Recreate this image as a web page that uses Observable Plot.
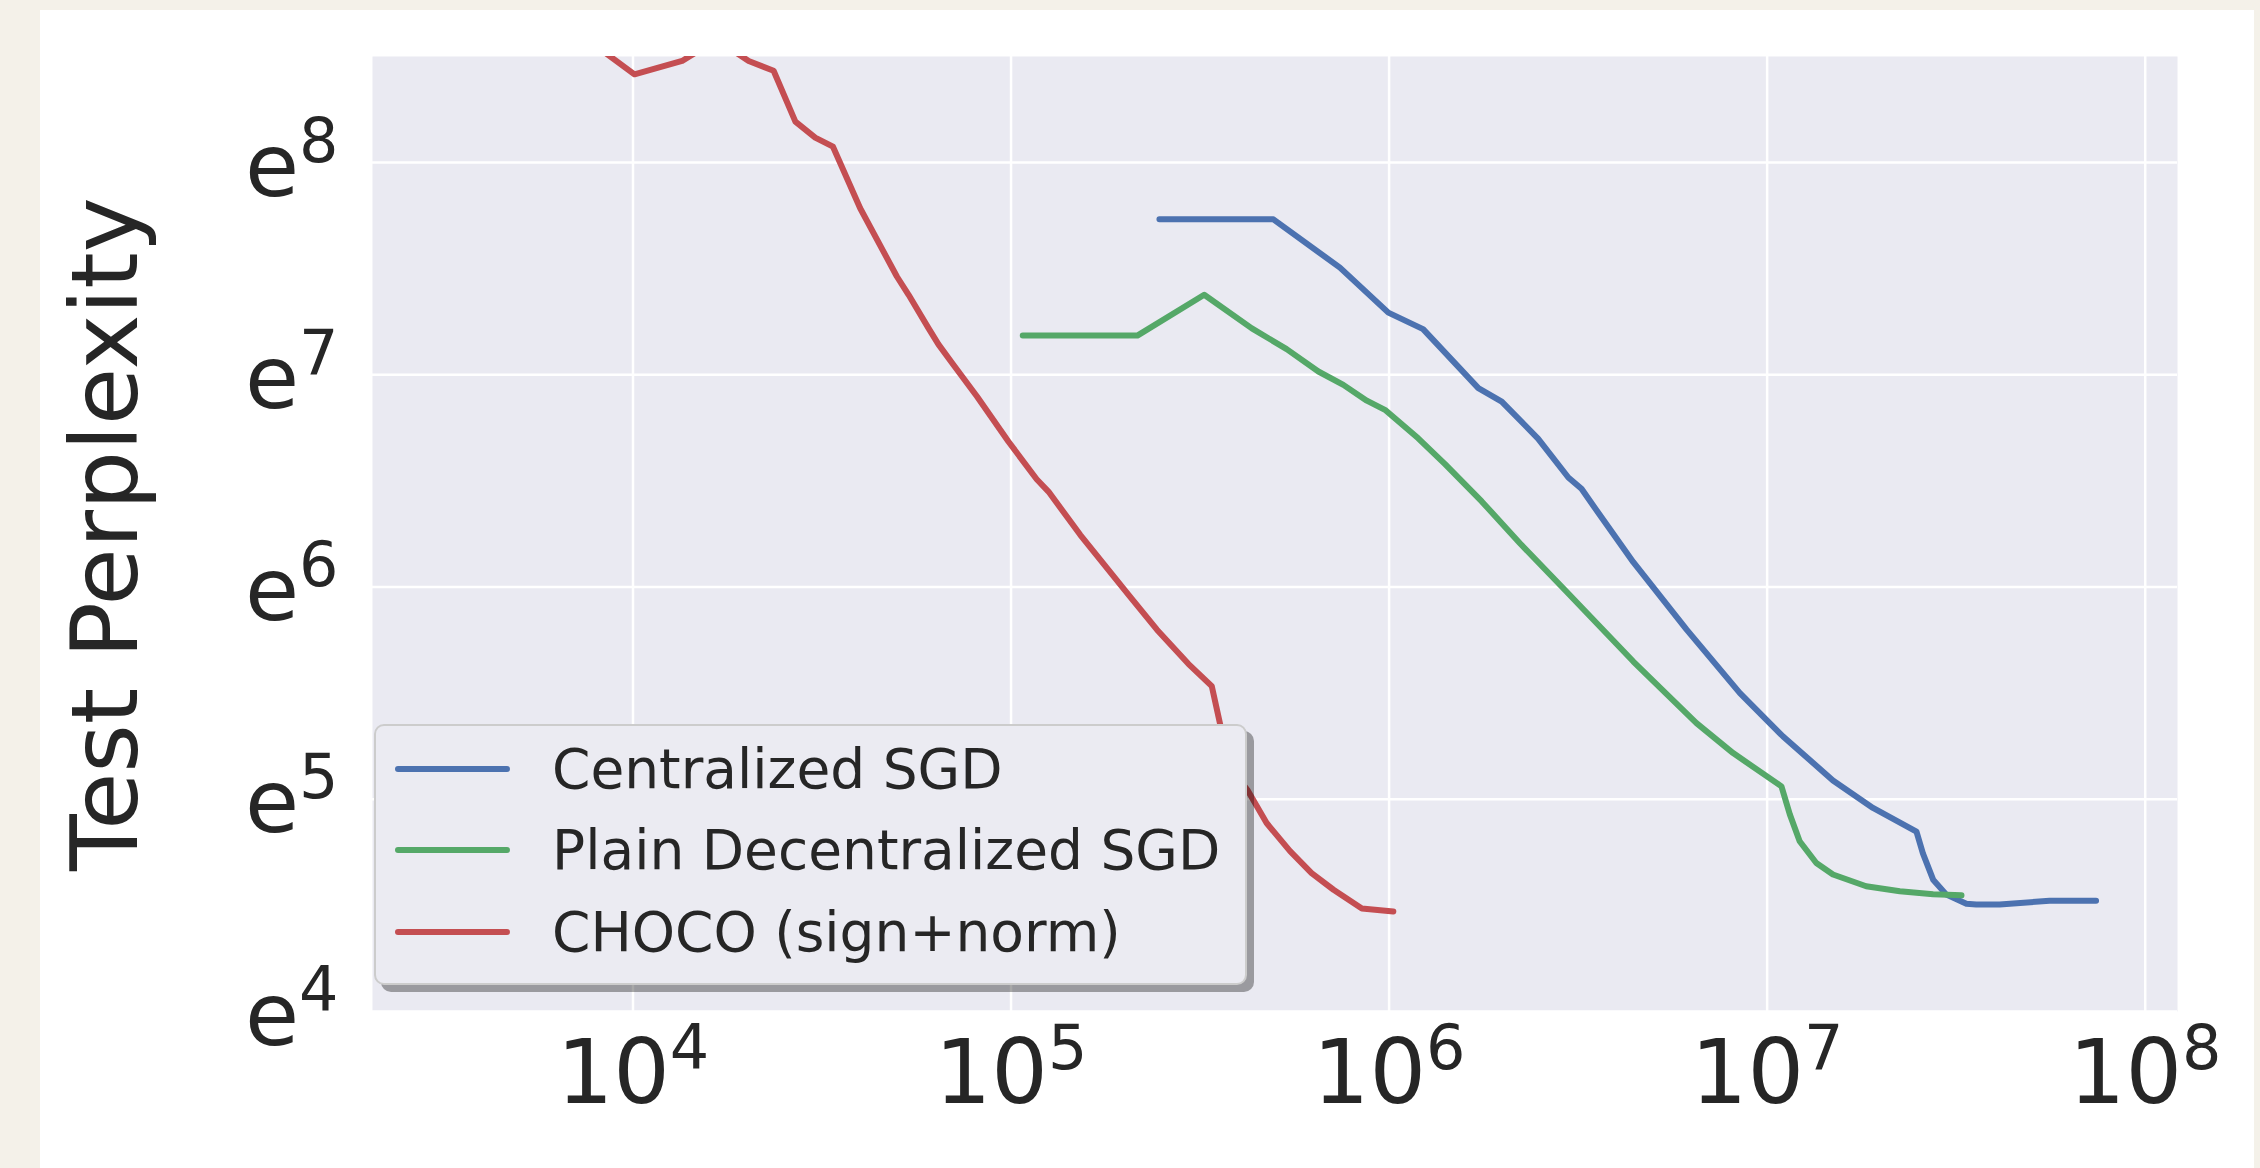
<!DOCTYPE html>
<html>
<head>
<meta charset="utf-8">
<script src="https://cdn.jsdelivr.net/npm/d3@7"></script>
<script src="https://cdn.jsdelivr.net/npm/@observablehq/plot@0.6"></script>
<style>
  html, body { margin: 0; padding: 0; background: #f4f1e9; }
  #page { position: relative; width: 2260px; height: 1168px; overflow: hidden; font-family: "DejaVu Sans", sans-serif; }
  #card { position: absolute; left: 40px; top: 10px; width: 2214px; height: 1158px; background: #ffffff; }
  #chart { position: absolute; left: 0; top: 0; }
  #legend { position: absolute; left: 374px; top: 724px; width: 873px; height: 261px; box-sizing: border-box;
            background: #ebebf2; border: 2.5px solid #cccccc; border-radius: 10px;
            box-shadow: 7px 7px 0 0 rgba(0,0,0,0.34); }
  .sw { position: absolute; left: 19px; width: 115px; height: 6px; border-radius: 3px; }
  .lt { position: absolute; left: 176px; font-size: 55px; line-height: 56px; color: #262626; white-space: nowrap; }
</style>
</head>
<body>
<div id="page">
  <div id="card"></div>
  <div id="chart"></div>
  <div id="legend"></div>
</div>
<script>
// ---- data ----
const seriesNames = ["Centralized SGD", "Plain Decentralized SGD", "CHOCO (sign+norm)"];

const centralizedSteps = [246900, 494300, 741300, 995400, 1230000, 1722000, 1986000, 2477000, 2979000, 3228000, 3606000, 4426000, 6124000, 8472000, 11020000, 14930000, 19050000, 24830000, 25820000, 27480000, 29790000, 33650000, 35730000, 41210000, 55850000, 74130000];
const centralizedPerplexity = [2282, 2282, 1817, 1470, 1360, 1030, 967, 812, 676, 641, 567, 453.5, 330, 244.7, 199.5, 162.2, 142.5, 127.4, 115, 101.6, 94.7, 90.7, 90.4, 90.4, 92, 92];

const plainSteps = [107400, 215800, 324300, 433500, 535800, 650100, 756800, 873000, 975000, 1194000, 1406000, 1758000, 2218000, 2944000, 4426000, 6501000, 8128000, 10910000, 11480000, 12190000, 13490000, 14930000, 18280000, 22440000, 27480000, 32660000];
const plainPerplexity = [1319.5, 1319.5, 1599, 1365, 1238, 1114, 1046, 971, 930, 813, 720, 604, 496, 395, 284, 212.5, 184.5, 157.7, 138.2, 121.8, 109.9, 104.1, 98.5, 96.2, 94.9, 94.4];

const chocoSteps = [3370, 10090, 13490, 16630, 20230, 23550, 26890, 30340, 33810, 39900, 49890, 53580, 60530, 64270, 70470, 81280, 98400, 116900, 125600, 152400, 204600, 243200, 294400, 339600, 357300, 377600, 421700, 474200, 547000, 623700, 712900, 847200, 1026000];
const chocoPerplexity = [8440, 4519, 4813, 5319, 4813, 4596, 3616, 3354, 3213, 2404, 1743, 1599, 1365, 1266, 1149, 990, 801, 670.5, 632.7, 516, 389, 330, 281, 253, 211.4, 173.3, 155.2, 132.7, 116.2, 104.8, 96.9, 88.7, 87.5];

const xTickExponents = [4, 5, 6, 7, 8];
const yTickExponents = [4, 5, 6, 7, 8];
const yLabel = "Test Perplexity";

// ---- build table ----
const seriesSteps = [centralizedSteps, plainSteps, chocoSteps];
const seriesPerp = [centralizedPerplexity, plainPerplexity, chocoPerplexity];
const rows = [];
seriesNames.forEach((name, i) => {
  seriesSteps[i].forEach((s, j) => rows.push({series: name, step: s, perplexity: seriesPerp[i][j]}));
});

const colors = ["#4c72b0", "#55a868", "#c44e52"];
const ink = "#262626";

const chart = Plot.plot({
  width: 2260,
  height: 1168,
  marginLeft: 372,
  marginRight: 83,
  marginTop: 56,
  marginBottom: 157,
  style: {background: "transparent", fontFamily: "DejaVu Sans, sans-serif", color: ink},
  x: {type: "log", domain: [Math.pow(10, 3.311), Math.pow(10, 8.0854)], label: null},
  y: {type: "log", base: Math.E, domain: [Math.exp(4), Math.exp(8.5)], label: null},
  color: {domain: seriesNames, range: colors},
  marks: [
    Plot.frame({fill: "#eaeaf2"}),
    Plot.gridX(xTickExponents.map(e => Math.pow(10, e)), {stroke: "#ffffff", strokeOpacity: 1, strokeWidth: 2.5}),
    Plot.gridY(yTickExponents.map(e => Math.exp(e)), {stroke: "#ffffff", strokeOpacity: 1, strokeWidth: 2.5}),
    Plot.line(rows, {x: "step", y: "perplexity", z: "series", stroke: "series", strokeWidth: 6,
                     strokeLinejoin: "round", strokeLinecap: "round", clip: true}),
    Plot.axisX({ticks: xTickExponents.map(e => Math.pow(10, e)), tickSize: 0, tickPadding: 28, fontSize: 89,
                fill: ink, label: null, tickFormat: d => "10^" + Math.round(Math.log10(d))}),
    Plot.axisY({ticks: yTickExponents.map(e => Math.exp(e)), tickSize: 0, tickPadding: 34, fontSize: 88, dy: 5,
                fill: ink, label: null, tickFormat: d => "e^" + Math.round(Math.log(d))}),
    Plot.axisY({ticks: [], tickSize: 0, label: yLabel, labelAnchor: "center", labelArrow: false,
                labelOffset: 302, fontSize: 93, fill: ink})
  ]
});

// superscripts for the tick labels
const NS = "http://www.w3.org/2000/svg";
chart.querySelectorAll('g[aria-label="x-axis tick label"] text, g[aria-label="y-axis tick label"] text').forEach(t => {
  const parts = t.textContent.split("^");
  if (parts.length !== 2) return;
  t.textContent = "";
  const a = document.createElementNS(NS, "tspan");
  a.textContent = parts[0];
  t.appendChild(a);
  const b = document.createElementNS(NS, "tspan");
  b.textContent = parts[1];
  b.setAttribute("font-size", "62");
  b.setAttribute("dy", "-34");
  t.appendChild(b);
});

document.getElementById("chart").appendChild(chart);

// legend
const legend = document.getElementById("legend");
const rowCenters = [42.5, 123.5, 205.5];
seriesNames.forEach((name, i) => {
  const sw = document.createElement("div");
  sw.className = "sw";
  sw.style.top = (rowCenters[i] - 3) + "px";
  sw.style.background = colors[i];
  legend.appendChild(sw);
  const tx = document.createElement("div");
  tx.className = "lt";
  tx.style.top = (rowCenters[i] - 28) + "px";
  tx.textContent = name;
  legend.appendChild(tx);
});
</script>
</body>
</html>
